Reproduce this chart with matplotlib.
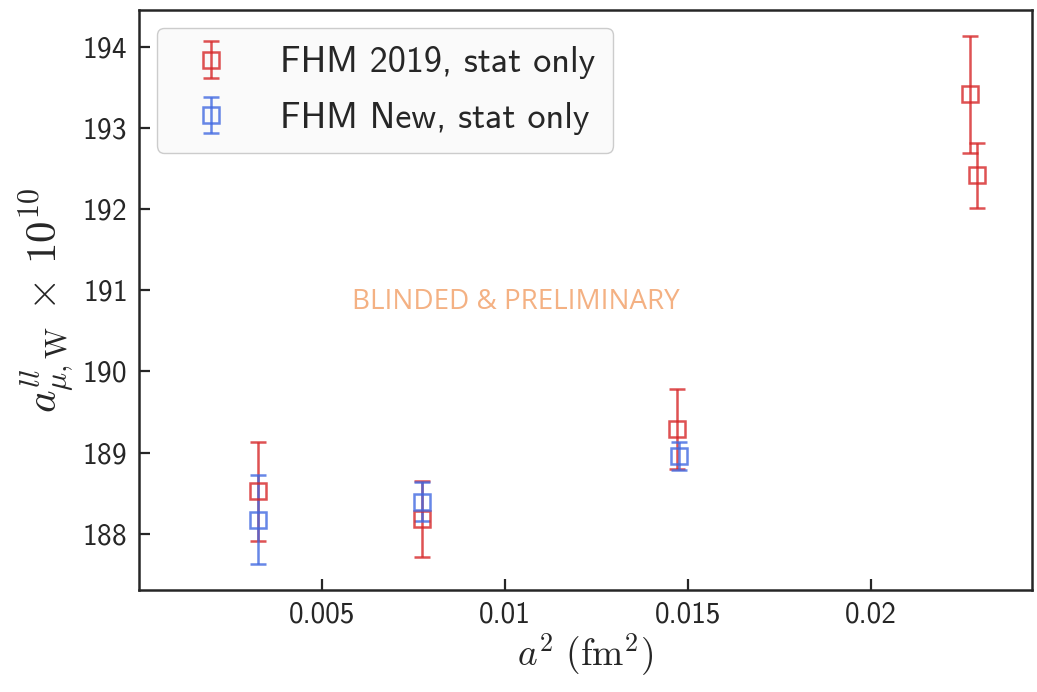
import numpy as np
import matplotlib
matplotlib.use('Agg')
import matplotlib.pyplot as plt
from matplotlib.ticker import FixedLocator

plt.rcParams['font.family'] = ['cmss10', 'DejaVu Sans']
plt.rcParams['mathtext.fontset'] = 'cm'
plt.rcParams['axes.formatter.use_mathtext'] = True
plt.rcParams['axes.unicode_minus'] = False

# FHM 2019, stat only
a2_old = [0.00325, 0.00774, 0.01471, 0.02272, 0.02291]
amu_old = [188.52, 188.18, 189.29, 193.42, 192.42]
err_old = [0.61, 0.47, 0.49, 0.72, 0.40]

# FHM New, stat only
a2_new = [0.00325, 0.00774, 0.01476]
amu_new = [188.17, 188.39, 188.96]
err_new = [0.55, 0.24, 0.17]

xticks = [0.005, 0.01, 0.015, 0.02]
xtick_labels = ['0.005', '0.01', '0.015', '0.02']
yticks = [188, 189, 190, 191, 192, 193, 194]

fig = plt.figure(figsize=(10.37, 6.92), dpi=100)
ax = fig.add_axes([0.134, 0.147, 0.861, 0.8385])

ax.errorbar(a2_old, amu_old, yerr=err_old, fmt='s', color='#d62728', alpha=0.8,
            mfc='none', ms=11, mew=1.8, elinewidth=1.8, capsize=6, capthick=1.8,
            label='FHM 2019, stat only')
ax.errorbar(a2_new, amu_new, yerr=err_new, fmt='s', color='royalblue', alpha=0.8,
            mfc='none', ms=11, mew=1.8, elinewidth=1.8, capsize=6, capthick=1.8,
            label='FHM New, stat only')

ax.set_xlim(0, 0.0244)
ax.set_ylim(187.30, 194.46)
ax.xaxis.set_major_locator(FixedLocator(xticks))
ax.set_xticklabels(xtick_labels)
ax.yaxis.set_major_locator(FixedLocator(yticks))

ax.tick_params(direction='in', length=8, width=1.6, labelsize=21, colors='#262626')
ax.tick_params(axis='x', pad=8)
ax.tick_params(axis='y', pad=9)
for s in ax.spines.values():
    s.set_linewidth(1.8)
    s.set_color('#262626')

ax.set_xlabel(r'$a^2\ (\mathrm{fm}^2)$', fontsize=27, color='#262626', labelpad=2)
ax.set_ylabel(r'$a^{ll}_{\mu,\mathrm{W}}\,\times\,10^{10}$', fontsize=31, color='#262626',
              labelpad=4)

ax.text(0.00582, 190.86, 'BLINDED & PRELIMINARY', fontsize=20, color='#f4b183',
        family='Open Sans', ha='left', va='center')

leg = ax.legend(loc='upper left', fontsize=26, frameon=True, fancybox=True,
                edgecolor='#cccccc', facecolor='#fafafa', framealpha=1,
                handletextpad=0.9, borderpad=0.5, labelspacing=0.62,
                borderaxespad=0.5)
for t in leg.get_texts():
    t.set_color('#262626')

fig.savefig('out.png', dpi=100)
